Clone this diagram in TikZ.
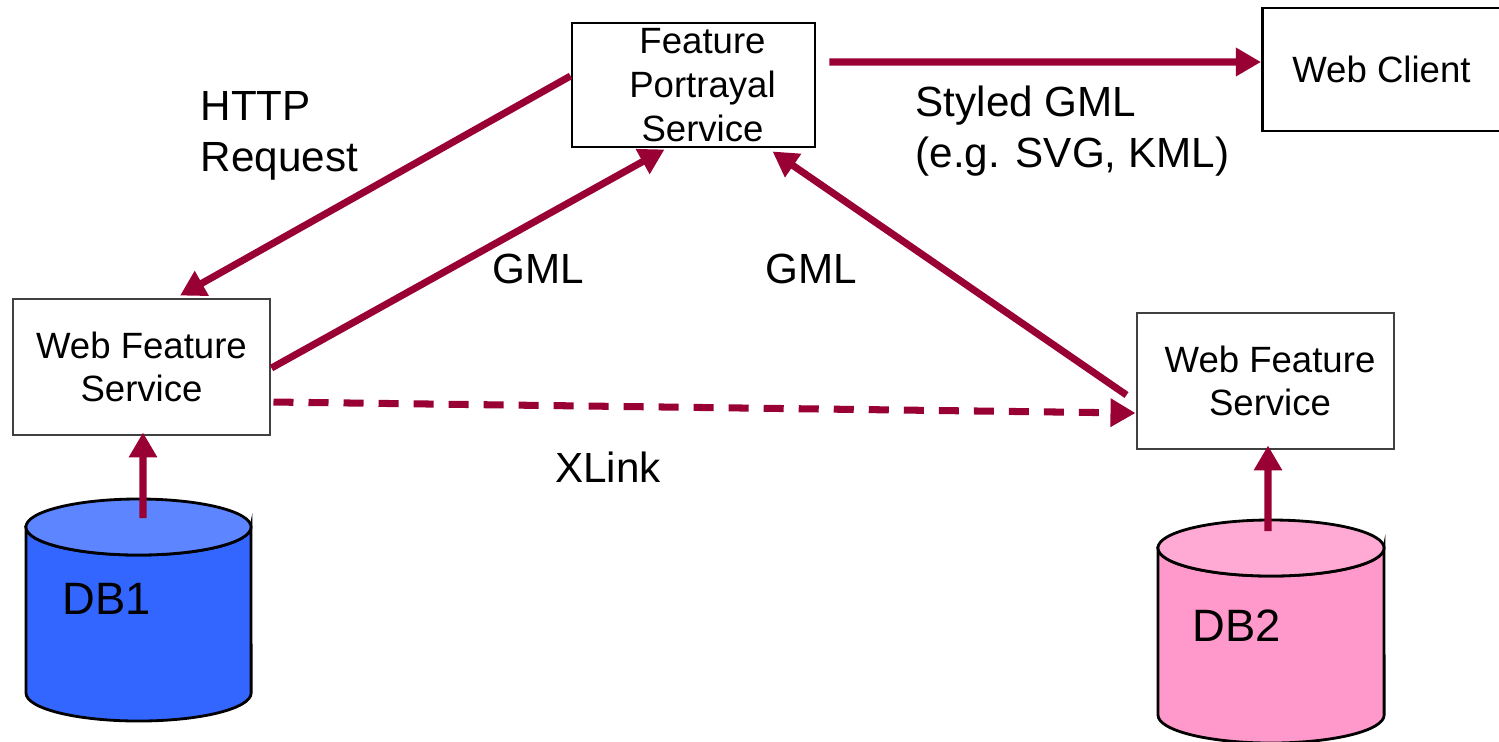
\documentclass[tikz,border=0pt]{standalone}
\usepackage{fontspec}
\setmainfont{Liberation Sans}
\usetikzlibrary{arrows.meta}
\definecolor{link}{RGB}{153,0,51}
\definecolor{dbblue}{RGB}{51,102,255}
\definecolor{dbbluetop}{RGB}{92,133,255}
\definecolor{dbpink}{RGB}{255,153,204}
\definecolor{dbpinktop}{RGB}{255,170,213}
\definecolor{boxgray}{RGB}{64,64,64}
\begin{document}
\begin{tikzpicture}[x=0.01cm,y=-0.01cm,
  box/.style={draw=#1, line width=0.8pt, fill=white, inner sep=0pt, align=center,
    font=\fontsize{10.4}{12.4}\selectfont},
  lbl/.style={inner sep=0pt, font=\fontsize{12}{14.6}\selectfont},
  dblbl/.style={inner sep=0pt, anchor=west, font=\fontsize{12.9}{15}\selectfont},
  flow/.style={draw=link, line width=2pt, -{Triangle[length=0.25cm,width=0.27cm]}},
  xlink/.style={flow, dash pattern=on 0.2cm off 0.15cm},
  dbbody/.style={line width=0.8pt, draw=black}
]
\useasboundingbox (0,0) rectangle (1499,741);

% databases
\filldraw[dbbody, fill=dbblue] (26,527) -- (26,693)
  arc[start angle=180, end angle=360, x radius=1.125cm, y radius=0.28cm]
  -- (251,527) arc[start angle=0, end angle=-180, x radius=1.125cm, y radius=0.28cm] -- cycle;
\filldraw[dbbody, fill=dbbluetop] (138.5,527) ellipse[x radius=1.125cm, y radius=0.28cm];
\node[dblbl] (db1) at (62,599) {DB1};
\coordinate (db1top) at (143,518);

\filldraw[dbbody, fill=dbpink] (1158,548) -- (1158,715)
  arc[start angle=180, end angle=360, x radius=1.13cm, y radius=0.28cm]
  -- (1384,548) arc[start angle=0, end angle=-180, x radius=1.13cm, y radius=0.28cm] -- cycle;
\filldraw[dbbody, fill=dbpinktop] (1271,548) ellipse[x radius=1.13cm, y radius=0.28cm];
\node[dblbl] (db2) at (1192,626) {DB2};
\coordinate (db2top) at (1268,531);

% services
\node[box=boxgray, minimum width=2.57cm, minimum height=1.36cm] (wfsA) at (141.5,367)
  {Web Feature\\Service};
\node[box=boxgray, minimum width=2.57cm, minimum height=1.36cm] (wfsB) at (1265.5,381)
  {\hspace*{0.09cm}Web Feature\\\hspace*{0.09cm}Service};
\node[box=black, minimum width=2.43cm, minimum height=1.24cm] (fps) at (693.5,85)
  {\hspace*{0.18cm}Feature\\\hspace*{0.18cm}Portrayal\\\hspace*{0.18cm}Service};
\node[box=black, minimum width=2.38cm, minimum height=1.23cm, anchor=west] (client) at (1261,69.5)
  {Web Client};

% connectors
\draw[flow] ([yshift=0.09cm]fps.west) -- ([xshift=0.385cm,yshift=0.02cm]wfsA.north);
\draw[flow] ([yshift=-0.01cm]wfsA.east) -- ([xshift=-0.29cm,yshift=-0.01cm]fps.south);
\draw[flow] ([xshift=-0.09cm,yshift=-0.14cm]wfsB.west) -- ([xshift=0.79cm,yshift=-0.03cm]fps.south);
\draw[flow] ([xshift=0.13cm,yshift=0.23cm]fps.east) -- ([yshift=0.075cm]client.west);
\draw[xlink] ([xshift=0.02cm,yshift=-0.35cm]wfsA.east) -- ([yshift=-0.32cm]wfsB.west);
\draw[flow] (db1top) -- ([xshift=0.015cm,yshift=0.04cm]wfsA.south);
\draw[flow] (db2top) -- ([xshift=0.025cm,yshift=0.05cm]wfsB.south);

% labels
\node[lbl, anchor=west, align=left] (http) at (200,136) {HTTP\\Request};
\node[lbl] (gmlA) at (538,269) {GML};
\node[lbl] (gmlB) at (811,269) {GML};
\node[lbl, anchor=west, align=left] (styled) at (915,131) {Styled GML\\(e.g. SVG, KML)};
\node[lbl] (xl) at (608,467) {XLink};
\end{tikzpicture}
\end{document}
